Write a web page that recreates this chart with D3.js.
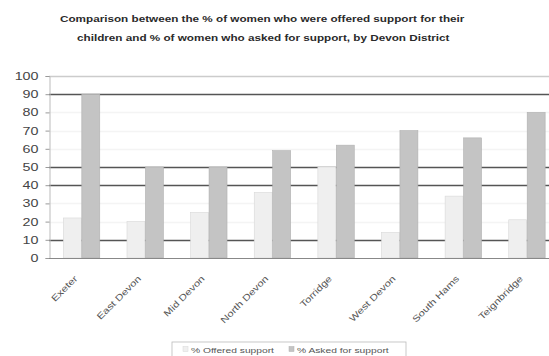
<!DOCTYPE html>
<html>
<head>
<meta charset="utf-8">
<script src="https://cdn.jsdelivr.net/npm/d3@7"></script>
<style>
  html, body { margin: 0; padding: 0; background: #fff; }
  svg { display: block; font-family: Arial, "Liberation Sans", sans-serif; }
</style>
</head>
<body>
<svg id="chart" width="549" height="356"></svg>
<script>
// Devon districts and the two survey percentages
const districts = ["Exeter", "East Devon", "Mid Devon", "North Devon", "Torridge", "West Devon", "South Hams", "Teignbridge"];
const offered = [22, 20, 25, 36, 50, 14, 34, 21];
const asked = [90, 50, 50, 59, 62, 70, 66, 80];
const seriesNames = ["% Offered support", "% Asked for support"];
const yTicks = [0, 10, 20, 30, 40, 50, 60, 70, 80, 90, 100];
const darkGrid = [10, 40, 50, 90];
const titleLines = [
  "Comparison between the % of women who were offered support for their",
  "children and % of women who asked for support, by Devon District"
];

const svg = d3.select("#chart");
const margin = { left: 49, right: -10, top: 76, bottom: 98 };
const W = 549, H = 356;
const FONT = "Arial, 'Liberation Sans', sans-serif";

// widen text glyphs horizontally by a given factor
function widen(sel, k) {
  sel.each(function () {
    const w = this.getComputedTextLength();
    d3.select(this).attr("textLength", w * k).attr("lengthAdjust", "spacingAndGlyphs");
  });
}

const x0 = d3.scaleBand().domain(districts)
  .range([margin.left + 1, W - margin.right])
  .paddingInner(0.42).paddingOuter(0.21);
const x1 = d3.scaleBand().domain([0, 1]).range([0, x0.bandwidth()]);
const y = d3.scaleLinear().domain([0, 100]).range([H - margin.bottom, margin.top]);

// title
svg.append("g").selectAll("text").data(titleLines).join("text")
  .attr("x", (d, i) => i === 0 ? 60 : 77).attr("y", (d, i) => 22 + i * 18.5)
  .attr("font-size", 9).attr("font-weight", "bold").attr("fill", "#2a2a2a")
  .text(d => d)
  .call(widen, 1.3);

// gridlines
svg.append("g").selectAll("line").data(yTicks.filter(t => t > 0)).join("line")
  .attr("x1", margin.left).attr("x2", W)
  .attr("y1", d => Math.round(y(d)) + 0.5).attr("y2", d => Math.round(y(d)) + 0.5)
  .attr("stroke", d => darkGrid.includes(d) ? "#555" : (d === 100 ? "#ccc" : "#f4f4f4"))
  .attr("stroke-width", d => darkGrid.includes(d) ? 1.3 : 1.5);

// bars
const colors = ["#efefef", "#c4c4c4"];
const strokes = ["#d8d8d8", "#b0b0b0"];
const groups = svg.append("g").selectAll("g").data(districts).join("g")
  .attr("transform", d => `translate(${x0(d)},0)`);
groups.selectAll("rect")
  .data((d, i) => [offered[i], asked[i]].map((v, k) => ({ v, k })))
  .join("rect")
  .attr("x", d => x1(d.k))
  .attr("width", x1.bandwidth() - 0.5)
  .attr("y", d => y(d.v))
  .attr("height", d => y(0) - y(d.v))
  .attr("fill", d => colors[d.k])
  .attr("stroke", d => strokes[d.k])
  .attr("stroke-width", 0.6);

// y axis
const yAxis = d3.axisLeft(y).tickValues(yTicks).tickSize(4).tickPadding(7);
const ya = svg.append("g").attr("transform", `translate(${margin.left + 0.5},0)`).call(yAxis);
ya.select(".domain").attr("stroke", "#bbb");
ya.selectAll(".tick line").attr("stroke", "#999");
ya.selectAll(".tick text").attr("font-size", 11).attr("fill", "#444")
  .attr("font-family", FONT)
  .call(widen, 1.3);

// x axis
const xAxis = d3.axisBottom(x0).tickSize(0).tickPadding(0);
const xa = svg.append("g").attr("transform", `translate(0,${y(0)})`).call(xAxis);
xa.select(".domain").attr("stroke", "#888").attr("d", `M${margin.left},0.5H${W}`);
xa.selectAll(".tick text")
  .attr("font-size", 9).attr("fill", "#555")
  .attr("font-family", FONT)
  .attr("text-anchor", "end")
  .attr("transform", "translate(-6,19) rotate(-45)")
  .attr("dy", "0.35em")
  .call(widen, 1.25);

// legend
const lg = svg.append("g").attr("transform", "translate(172,342)");
lg.append("rect").attr("x", 0).attr("y", 0).attr("width", 234).attr("height", 20)
  .attr("fill", "#fff").attr("stroke", "#bbb").attr("stroke-width", 0.8);
const lx = [11, 117];
seriesNames.forEach((name, k) => {
  lg.append("rect").attr("x", lx[k]).attr("y", 4.5).attr("width", 5).attr("height", 5)
    .attr("fill", colors[k]).attr("stroke", strokes[k]).attr("stroke-width", 0.5);
  lg.append("text").attr("x", lx[k] + 8).attr("y", 10.5)
    .attr("font-size", 8).attr("fill", "#555").text(name)
    .call(widen, 1.28);
});
</script>
</body>
</html>
